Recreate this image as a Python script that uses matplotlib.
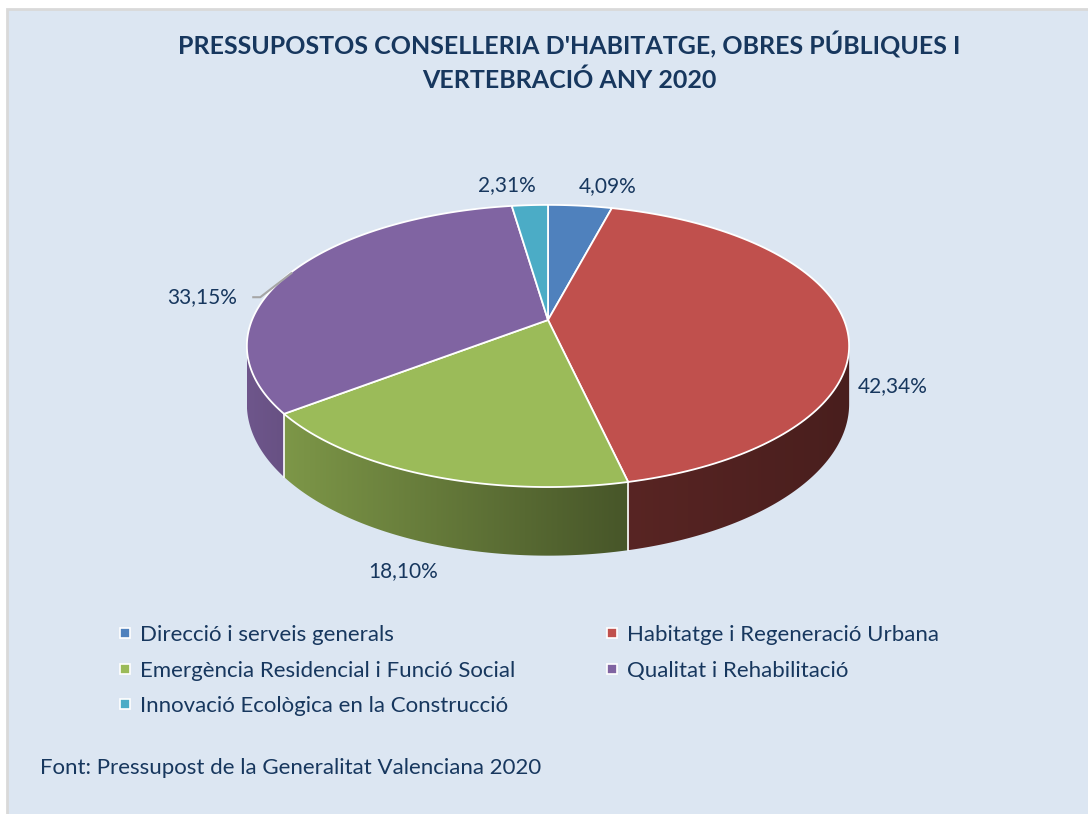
import numpy as np
import matplotlib.pyplot as plt
import matplotlib.colors as mcolors
from matplotlib.patches import Polygon, Rectangle
from matplotlib.lines import Line2D

# data
categories = ['Direcció i serveis generals', 'Habitatge i Regeneració Urbana',
              'Emergència Residencial i Funció Social', 'Qualitat i Rehabilitació',
              'Innovació Ecològica en la Construcció']
shares = [4.09, 42.34, 18.10, 33.15, 2.31]
labels = ['4,09%', '42,34%', '18,10%', '33,15%', '2,31%']
colors = ['#4f81bd', '#c0504d', '#9bbb59', '#8064a2', '#4bacc6']

title = "PRESSUPOSTOS CONSELLERIA D'HABITATGE, OBRES PÚBLIQUES I\nVERTEBRACIÓ ANY 2020"
source = 'Font: Pressupost de la Generalitat Valenciana 2020'

plt.rcParams['font.family'] = ['Lato', 'DejaVu Sans']
navy = '#17375e'

fig = plt.figure(figsize=(10.88, 8.14), dpi=100)
ax = fig.add_axes([0, 0, 1, 1])

# chart area
ax.add_patch(Rectangle((7, 9), 1090, 820, fc='#dce6f2', ec='#d9d9d9', lw=2, zorder=0))

# 3d pie geometry (pixels), simple perspective
cx, cy, rx, ry, k, h = 548, 320, 296, 136.3, 0.184, 56


def proj(theta, drop=0.0, r=1.0):
    u = r * np.sin(theta)
    v = -r * np.cos(theta)
    s = 1 / (1 - k * v)
    return cx + rx * u * s, cy + ry * v * s + drop * s


n = len(shares)
bounds = 2 * np.pi * np.concatenate([[0], np.cumsum(shares)]) / np.sum(shares)
sil = np.arccos(-k)

# side walls with a left-to-right shading
for i in range(n):
    a0 = max(bounds[i], sil)
    a1 = min(bounds[i + 1], 2 * np.pi - sil)
    if a1 <= a0:
        continue
    t = np.linspace(a0, a1, 100)
    xt, yt = proj(t)
    xb, yb = proj(t, h)
    poly = np.column_stack([np.r_[xt, xb[::-1]], np.r_[yt, yb[::-1]]])
    patch = Polygon(poly, closed=True, fc='none', ec='none')
    ax.add_patch(patch)
    xs = np.linspace(poly[:, 0].min(), poly[:, 0].max(), 200)
    f = np.interp(xs, [248, 290, 625, 848], [0.86, 0.80, 0.46, 0.38])
    base = np.array(mcolors.to_rgb(colors[i]))
    img = f[None, :, None] * base[None, None, :]
    im = ax.imshow(img, extent=[xs[0], xs[-1], poly[:, 1].max(), poly[:, 1].min()],
                   aspect='auto', zorder=2, interpolation='bilinear')
    im.set_clip_path(patch)

for b in bounds:
    if sil < b < 2 * np.pi - sil:
        x0, y0 = proj(b)
        x1, y1 = proj(b, h)
        ax.plot([x0, x1], [y0, y1], color='white', lw=1.2, zorder=2.5)

# top faces
for i in range(n):
    t = np.linspace(bounds[i], bounds[i + 1], 120)
    xa, ya = proj(t)
    pts = np.column_stack([np.r_[cx, xa], np.r_[cy, ya]])
    ax.add_patch(Polygon(pts, closed=True, fc=colors[i], ec='white', lw=1.3, zorder=3))

# data labels
mids = (bounds[:-1] + bounds[1:]) / 2
offsets = [(28, -20), (48, 64), (-24, 96), (-54, 25), (-23, -20)]
for i in range(n):
    px, py = proj(mids[i])
    dx, dy = offsets[i]
    ha = 'center'
    if i == 3:
        ha = 'right'
        ax.plot([px, px - 31, px - 38], [py + 1, py + 25, py + 25],
                color='#a6a6a6', lw=1.5, zorder=4)
    ax.text(px + dx, py + dy, labels[i], ha=ha, va='center', fontsize=15,
            color=navy, zorder=5)

# title and source
ax.text(569, 62, title, ha='center', va='center', fontsize=18, fontweight='bold',
        color=navy, linespacing=1.5)
ax.text(40, 768, source, ha='left', va='center', fontsize=16, color=navy)

# legend in two columns, row-first order like the original
handles = [Line2D([], [], marker='s', ls='none', markersize=7, mfc=c,
                  mec='white', mew=1.2) for c in colors]
cols = [[0, 2, 4], [1, 3]]
anchors = [116, 603]
for j in range(2):
    leg = ax.legend([handles[i] for i in cols[j]], [categories[i] for i in cols[j]],
                    loc='upper left', bbox_to_anchor=(anchors[j] / 1088, 1 - 625 / 814),
                    frameon=False, fontsize=16, labelcolor=navy, handlelength=0.8,
                    handletextpad=0.3, labelspacing=0.7, borderpad=0, borderaxespad=0)
    if j == 0:
        ax.add_artist(leg)

ax.set_xlim(0, 1088)
ax.set_ylim(814, 0)
ax.axis('off')

fig.savefig('out.png', dpi=100, facecolor='white')
